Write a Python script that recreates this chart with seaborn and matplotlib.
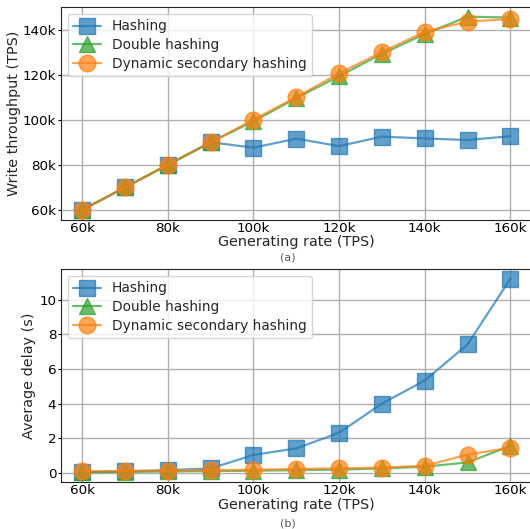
import matplotlib
matplotlib.use("Agg")
import matplotlib.pyplot as plt
from matplotlib.ticker import FuncFormatter
import seaborn as sns

# generating rate (TPS)
rate = [60000, 70000, 80000, 90000, 100000, 110000, 120000, 130000, 140000, 150000, 160000]

# write throughput (TPS)
tp_hashing = [60000, 70000, 80000, 90000, 87600, 91600, 88300, 92500, 91700, 91000, 92700]
tp_double = [60000, 70000, 80000, 90000, 99300, 109600, 119300, 129200, 138000, 145700, 145300]
tp_dynamic = [60000, 70000, 80000, 90000, 100000, 110000, 120600, 130000, 139000, 143500, 144700]

# average delay (s)
dl_hashing = [0.05, 0.08, 0.15, 0.25, 1.03, 1.41, 2.31, 4.0, 5.33, 7.42, 11.22]
dl_double = [0.03, 0.05, 0.08, 0.1, 0.12, 0.15, 0.18, 0.25, 0.35, 0.6, 1.55]
dl_dynamic = [0.08, 0.1, 0.12, 0.15, 0.17, 0.22, 0.25, 0.3, 0.4, 1.05, 1.45]

labels = ["Hashing", "Double hashing", "Dynamic secondary hashing"]
colors = ["#1f77b4", "#2ca02c", "#ff7f0e"]
markers = ["s", "^", "o"]

sns.set_style("ticks")
plt.rcParams["font.family"] = ["DejaVu Sans"]

kfmt = FuncFormatter(lambda v, p: f"{int(round(v / 1000))}k")

fig = plt.figure(figsize=(5.3, 5.29), dpi=100)
ax1 = fig.add_axes([0.1147, 0.5849, 0.8887, 0.4019])
ax2 = fig.add_axes([0.1147, 0.0890, 0.8887, 0.4025])


def draw(ax, series):
    for ys, lab, c, m in zip(series, labels, colors, markers):
        sns.lineplot(x=rate, y=ys, ax=ax, color=c, marker=m, markersize=12,
                     markeredgecolor=c, markeredgewidth=1, linewidth=1.6,
                     alpha=0.7, label=lab)
    ax.grid(True, color="#b0b0b0", linewidth=1.0)
    ax.set_axisbelow(True)
    ax.xaxis.set_major_formatter(kfmt)
    ax.set_xticks([60000, 80000, 100000, 120000, 140000, 160000])
    ax.set_xlabel("Generating rate (TPS)", fontsize=10.4, labelpad=0.5)
    ax.tick_params(axis="x", labelsize=9.7, colors="black", length=0, pad=1.5)
    ax.tick_params(axis="y", labelsize=9.7, colors="black", length=2.5, pad=0.8)
    for s in ax.spines.values():
        s.set_color("#222222")
    ax.legend(loc="upper left", fontsize=9.9, frameon=True, borderaxespad=0.5,
              labelspacing=0.35)


draw(ax1, [tp_hashing, tp_double, tp_dynamic])
ax1.yaxis.set_major_formatter(kfmt)
ax1.set_yticks([60000, 80000, 100000, 120000, 140000])
ax1.set_ylabel("Write throughput (TPS)", fontsize=10.4, labelpad=1)

draw(ax2, [dl_hashing, dl_double, dl_dynamic])
ax2.set_yticks([0, 2, 4, 6, 8, 10])
ax2.set_ylabel("Average delay (s)", fontsize=10.4, labelpad=2)

fig.text(288 / 530, 1 - 257 / 529, "(a)", ha="center", va="center", fontsize=8, color="#555555")
fig.text(288 / 530, 1 - 523 / 529, "(b)", ha="center", va="center", fontsize=8, color="#555555")

fig.savefig("out.png", dpi=100)
